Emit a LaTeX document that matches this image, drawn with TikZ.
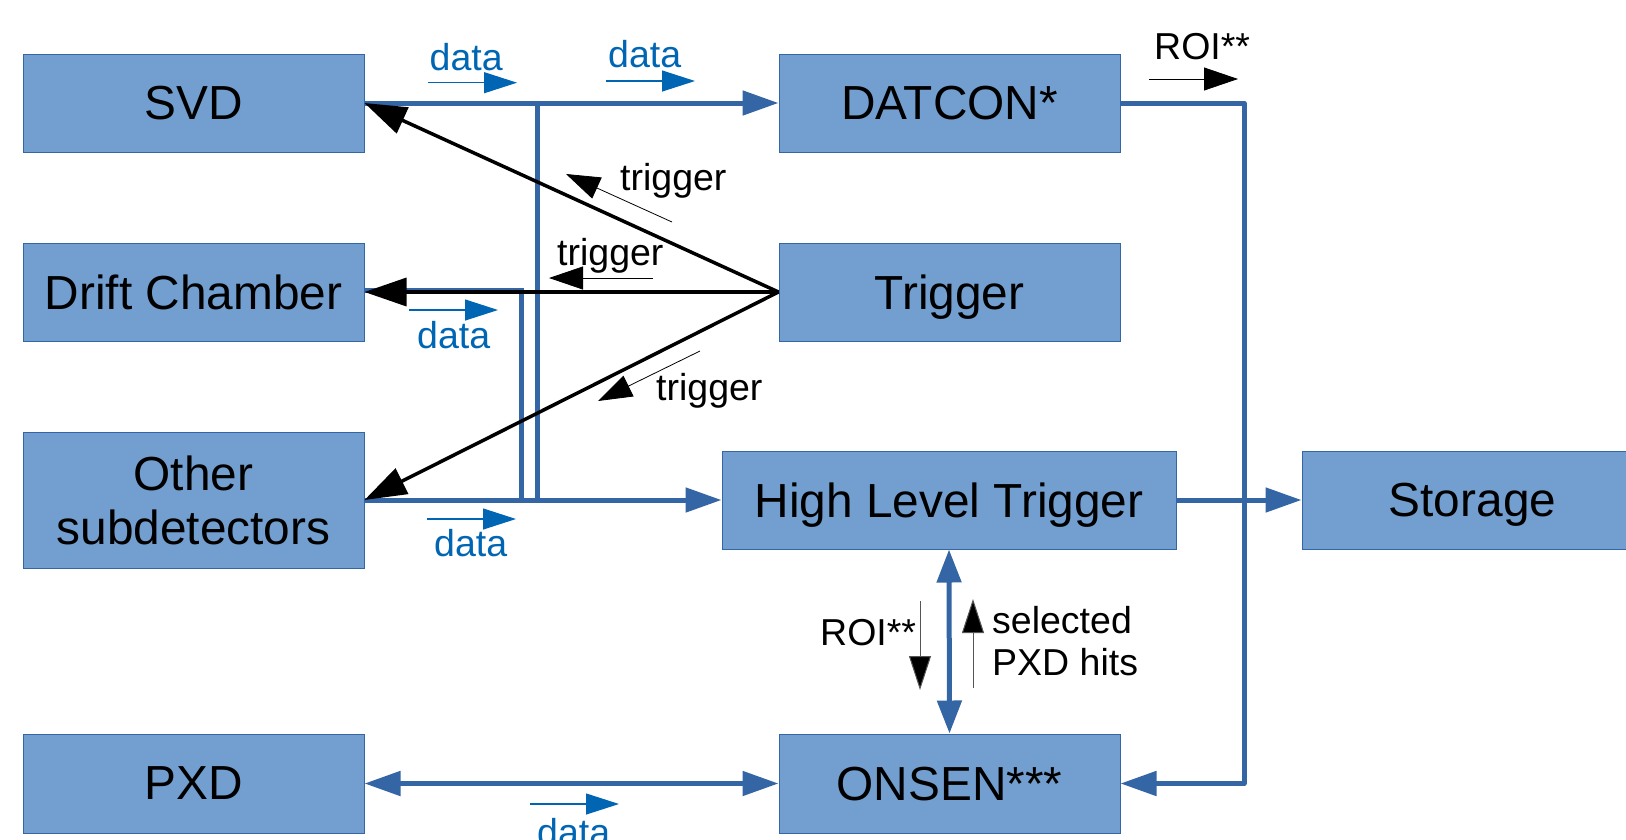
\documentclass[tikz,border=0pt]{standalone}
\usepackage{fontspec}
\setmainfont{Liberation Sans}
\usetikzlibrary{arrows.meta}
\definecolor{boxfill}{HTML}{729FCF}
\definecolor{boxline}{HTML}{3465A4}
\definecolor{datablue}{HTML}{0066B3}
\definecolor{hintgray}{HTML}{555555}

\begin{document}
\begin{tikzpicture}[x=1pt,y=-1pt,
  unit/.style={draw=boxline, line width=1pt, fill=boxfill, minimum width=341pt,
    minimum height=98pt, inner sep=0pt, text depth=0pt, align=center,
    font=\fontsize{47.8}{54}\selectfont},
  bus/.style={draw=boxline, line width=5pt},
  bushead/.style={-{Triangle[length=36pt,width=24pt]}},
  busboth/.style={{Triangle[length=36pt,width=24pt]}-{Triangle[length=36pt,width=24pt]}},
  trig/.style={draw=black, line width=3.5pt, -{Triangle[length=42pt,width=28pt]}},
  lbl/.style={inner sep=0pt, anchor=base west, font=\fontsize{37.5}{42}\selectfont},
  datalbl/.style={lbl, text=datablue},
  datahint/.style={draw=datablue, line width=1.2pt, -{Triangle[length=33pt,width=21pt]}},
  trighint/.style={draw=black, line width=0.8pt, -{Triangle[length=34pt,width=23pt]}},
  grayhint/.style={draw=hintgray, line width=1pt, -{Triangle[length=34pt,width=22pt,fill=black]}},
]
\useasboundingbox (0,0) rectangle (1626,839);
\clip (0,0) rectangle (1626,839);

% detector and processing units
\node[unit] (svd)     at (193.5,103)   {SVD};
\node[unit] (dc)      at (193.5,292)   {Drift Chamber};
\node[unit, minimum height=136pt] (other) at (193.5,500) {Other\\subdetectors};
\node[unit, minimum height=99pt] (pxd) at (193.5,783.5) {PXD};
\node[unit] (datcon)  at (949.5,103)   {DATCON*};
\node[unit] (trigger) at (949.5,292)   {Trigger};
\node[unit, minimum width=454pt] (hlt) at (949,500) {High Level Trigger};
\node[unit] (storage) at (1472.5,500)  {Storage};
\node[unit, minimum height=99pt] (onsen) at (949.5,783.5) {ONSEN***};

% junction points of the data bus
\coordinate (j1) at (537,103);
\coordinate (j2) at (521.7,290);
\coordinate (j3) at (1244,103);

% data paths
\draw[bus, bushead] (svd.east) -- (datcon.west);
\draw[bus] (j1) -- (j1 |- other.east);
\draw[bus] ([yshift=2pt]dc.east) -- (j2) -- (j2 |- other.east);
\draw[bus, bushead] (other.east) -- (hlt.west);
\draw[bus, bushead] (hlt.east) -- (storage.west);
\draw[bus, bushead, line join=round] (datcon.east) -- (j3) -- (j3 |- onsen.east) -- (onsen.east);
\draw[bus, busboth] (pxd.east) -- (onsen.west);
\draw[bus, {Triangle[length=33pt,width=24pt]}-{Triangle[length=33pt,width=24pt]}] (hlt.south) -- (onsen.north);

% trigger distribution
\draw[trig] (trigger.west) -- (svd.east);
\draw[trig] (trigger.west) -- (dc.east);
\draw[trig] (trigger.west) -- (other.east);

% direction hints with labels
\draw[datahint] (428,82.7) -- (517,82.7);
\node[datalbl] (d1) at (429.5,70) {data};
\draw[datahint] (606,81) -- (695,81);
\node[datalbl] (d2) at (608,67.7) {data};
\draw[datahint] (409,310) -- (498,310);
\node[datalbl] (d3) at (417,348) {data};
\draw[datahint] (427,519) -- (516,519);
\node[datalbl] (d4) at (434,556.7) {data};
\draw[datahint] (530,804) -- (619,804);
\node[datalbl] (d5) at (537,845) {data};

\draw[trighint] (672,222) -- (566,174);
\node[lbl] (t1) at (620,190) {trigger};
\draw[trighint] (653,278) -- (549,278);
\node[lbl] (t2) at (557,265) {trigger};
\draw[trighint] (700,351) -- (598,401);
\node[lbl] (t3) at (656,400.7) {trigger};

\draw[trighint] (1149,79) -- (1238,79);
\node[lbl] (r1) at (1154,59) {ROI**};
\draw[grayhint] (920,601) -- (920,690);
\node[lbl] (r2) at (820,645) {ROI**};
\draw[grayhint] (973,688) -- (973,599);
\node[lbl] (s1) at (992,633) {selected};
\node[lbl] (s2) at (992,675) {PXD hits};
\end{tikzpicture}
\end{document}
